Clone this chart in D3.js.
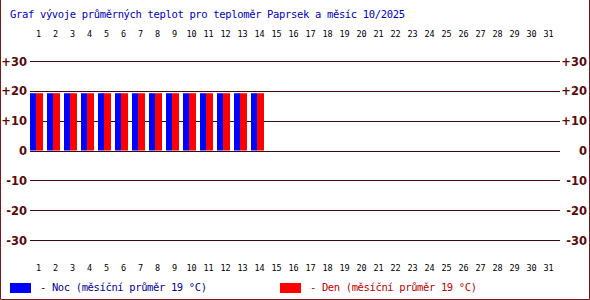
<!DOCTYPE html>
<html>
<head>
<meta charset="utf-8">
<script src="https://cdn.jsdelivr.net/npm/d3@7"></script>
<style>
  body { margin: 0; background: #fff; }
  svg { display: block; }
</style>
</head>
<body>
<div id="chart"></div>
<script>
// data
const days = d3.range(1, 32);
const nightVals = [19.2, 19.2, 19.2, 19.2, 19.2, 19.2, 19.2, 19.2, 19.2, 19.2, 19.2, 19.2, 19.2, 19.2];
const dayVals = [19.2, 19.2, 19.2, 19.2, 19.2, 19.2, 19.2, 19.2, 19.2, 19.2, 19.2, 19.2, 19.2, 19.2];
const yTicks = [30, 20, 10, 0, -10, -20, -30];
const title = "Graf vývoje průměrných teplot pro teploměr Paprsek a měsíc 10/2025";
const legendNight = "- Noc (měsíční průměr 19 °C)";
const legendDay = "- Den (měsíční průměr 19 °C)";

const width = 590, height = 300;
const mono = "'DejaVu Sans Mono', monospace";

const svg = d3.select("#chart").append("svg")
    .attr("width", width)
    .attr("height", height);

// scales
const x = d3.scaleBand()
    .domain(days)
    .range([30, 557]);

const y = d3.scaleLinear()
    .domain([-30, 30])
    .range([240, 61]);

// border (left, right, bottom)
svg.append("path")
    .attr("d", "M0.5,0 V299.5 H589.5 V0")
    .attr("fill", "none")
    .attr("stroke", "#7a1a1a");

// title
svg.append("text")
    .attr("x", 10)
    .attr("y", 18)
    .attr("textLength", 395)
    .style("font-family", mono)
    .style("font-size", "10.5px")
    .style("fill", "#0000c0")
    .text(title);

// grid lines
svg.selectAll("line.grid")
    .data(yTicks)
    .enter()
    .append("line")
    .attr("class", "grid")
    .attr("x1", 30)
    .attr("x2", 560)
    .attr("y1", d => Math.round(y(d)) + 0.5)
    .attr("y2", d => Math.round(y(d)) + 0.5)
    .attr("stroke", "#3a0c0c");

// y labels left + right
const fmt = d => d > 0 ? "+" + d : String(d);
[{ xp: 27 }, { xp: 587 }].forEach(side => {
    svg.selectAll(null)
        .data(yTicks)
        .enter()
        .append("text")
        .attr("x", side.xp)
        .attr("y", d => y(d) + 4.5)
        .attr("text-anchor", "end")
        .style("font-family", "'DejaVu Sans', Verdana, sans-serif")
        .style("font-weight", "bold")
        .style("font-size", "11.5px")
        .style("fill", "#5a0a0a")
        .text(fmt);
});

// bars
const bw = x.bandwidth();
svg.selectAll("rect.noc")
    .data(nightVals)
    .enter()
    .append("rect")
    .attr("class", "noc")
    .attr("x", (d, i) => Math.round(x(days[i])))
    .attr("y", d => y(d))
    .attr("width", 6)
    .attr("height", d => y(0) - y(d))
    .attr("fill", "#0000ff");

svg.selectAll("rect.den")
    .data(dayVals)
    .enter()
    .append("rect")
    .attr("class", "den")
    .attr("x", (d, i) => Math.round(x(days[i])) + 6)
    .attr("y", d => y(d))
    .attr("width", 7)
    .attr("height", d => y(0) - y(d))
    .attr("fill", "#ff0000");

// day labels top + bottom
[37, 271].forEach(yy => {
    svg.selectAll(null)
        .data(days)
        .enter()
        .append("text")
        .attr("x", d => x(d) + bw / 2)
        .attr("y", yy)
        .attr("text-anchor", "middle")
        .style("font-family", mono)
        .style("font-size", "8.5px")
        .style("fill", "#000")
        .text(d => d);
});

// legend
const legend = [
    { x: 10, color: "#0000ff", text: legendNight, tc: "#0000a0" },
    { x: 280, color: "#ff0000", text: legendDay, tc: "#c00000" }
];
legend.forEach(l => {
    svg.append("rect")
        .attr("x", l.x)
        .attr("y", 283)
        .attr("width", 21)
        .attr("height", 10)
        .attr("fill", l.color);
    svg.append("text")
        .attr("x", l.x + 30)
        .attr("y", 291)
        .attr("textLength", 167)
        .style("font-family", mono)
        .style("font-size", "10.5px")
        .style("fill", l.tc)
        .text(l.text);
});
</script>
</body>
</html>
